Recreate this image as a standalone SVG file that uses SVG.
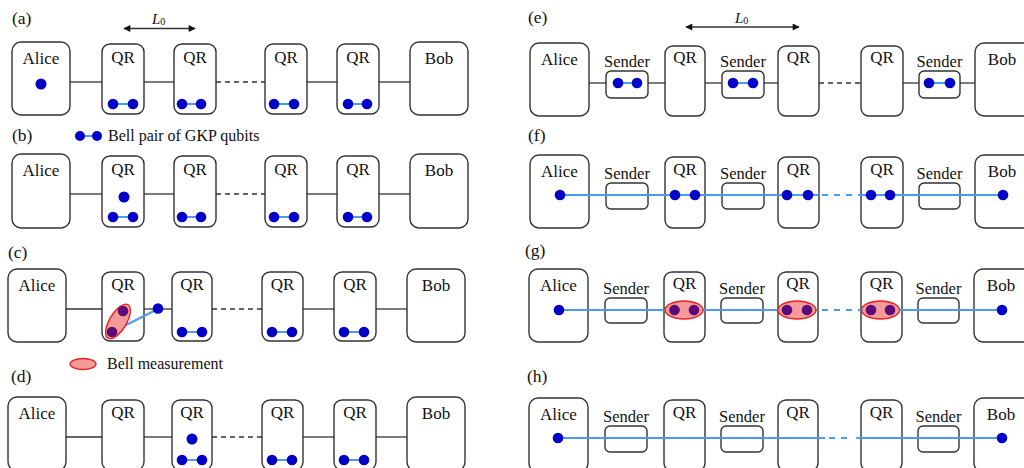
<svg xmlns="http://www.w3.org/2000/svg" width="1024" height="468" viewBox="0 0 1024 468">
<defs>
<style>
text{font-family:"Liberation Serif","Times New Roman",serif;fill:#111;}
.lb{font-size:17px;text-anchor:middle;}
.sd{font-size:16.5px;text-anchor:middle;}
.pl{font-size:17.5px;}
.l0{font-size:15px;font-style:italic;}
.lg{font-size:16px;}
.bx{fill:#fff;stroke:#333;stroke-width:1.4;}
.cn{stroke:#333;stroke-width:1.3;fill:none;}
.cd{stroke:#333;stroke-width:1.3;fill:none;stroke-dasharray:5 4;}
.bl{stroke:#4a9cf0;stroke-width:2;fill:none;}
.bd{stroke:#4a9cf0;stroke-width:2;fill:none;stroke-dasharray:6 6;}
.q{fill:#0000c8;}
.qm{fill:#5a0c78;}
.bm{fill:#f59a9a;stroke:#e82020;stroke-width:1.3;}
</style>
<marker id="ah" viewBox="0 0 10 10" refX="9" refY="5" markerWidth="9" markerHeight="7" markerUnits="userSpaceOnUse" orient="auto-start-reverse">
<path d="M0,0 L10,5 L0,10 z" fill="#111"/>
</marker>
</defs>

<!-- panel labels -->
<g id="labels">
<text class="pl" x="12" y="24">(a)</text>
<text class="pl" x="12" y="141">(b)</text>
<text class="pl" x="8" y="258">(c)</text>
<text class="pl" x="11" y="382">(d)</text>
<text class="pl" x="528" y="23">(e)</text>
<text class="pl" x="528" y="141">(f)</text>
<text class="pl" x="525" y="256">(g)</text>
<text class="pl" x="527" y="382">(h)</text>
<text class="l0" x="152" y="24">L<tspan font-size="10" font-style="normal" dy="1">0</tspan></text>
<text class="l0" x="735" y="23">L<tspan font-size="10" font-style="normal" dy="1">0</tspan></text>
<line class="cn" x1="124" y1="28.5" x2="195" y2="28.5" marker-start="url(#ah)" marker-end="url(#ah)"/>
<line class="cn" x1="686" y1="27" x2="799" y2="27" marker-start="url(#ah)" marker-end="url(#ah)"/>
</g>

<!-- legends -->
<g id="legend-bell-pair">
<line class="bl" x1="80" y1="136" x2="97" y2="136"/>
<circle class="q" cx="80" cy="136" r="5"/>
<circle class="q" cx="97" cy="136" r="5"/>
<text class="lg" x="108" y="141">Bell pair of GKP qubits</text>
</g>
<g id="legend-bell-measurement">
<ellipse class="bm" cx="83" cy="364" rx="13" ry="5.5"/>
<text class="lg" x="107" y="369">Bell measurement</text>
</g>

<!-- connectors -->
<g id="connectors">
<line class="cn" x1="70" y1="82" x2="102" y2="82"/>
<line class="cn" x1="144" y1="82" x2="174" y2="82"/>
<line class="cd" x1="216" y1="82" x2="265" y2="82"/>
<line class="cn" x1="307" y1="82" x2="337" y2="82"/>
<line class="cn" x1="379" y1="82" x2="410" y2="82"/>
<line class="cn" x1="70" y1="194" x2="102" y2="194"/>
<line class="cn" x1="144" y1="194" x2="174" y2="194"/>
<line class="cd" x1="216" y1="194" x2="265" y2="194"/>
<line class="cn" x1="307" y1="194" x2="337" y2="194"/>
<line class="cn" x1="379" y1="194" x2="410" y2="194"/>
<line class="cn" x1="66" y1="309" x2="102" y2="309"/>
<line class="cn" x1="144" y1="309" x2="172" y2="309"/>
<line class="cd" x1="212" y1="309" x2="262" y2="309"/>
<line class="cn" x1="303" y1="309" x2="334" y2="309"/>
<line class="cn" x1="376" y1="309" x2="407" y2="309"/>
<line class="cn" x1="66" y1="437" x2="102" y2="437"/>
<line class="cn" x1="144" y1="437" x2="172" y2="437"/>
<line class="cd" x1="212" y1="437" x2="262" y2="437"/>
<line class="cn" x1="303" y1="437" x2="334" y2="437"/>
<line class="cn" x1="376" y1="437" x2="407" y2="437"/>
<line class="cn" x1="589" y1="83" x2="606" y2="83"/>
<line class="cn" x1="648" y1="83" x2="665" y2="83"/>
<line class="cn" x1="705" y1="83" x2="722" y2="83"/>
<line class="cn" x1="764" y1="83" x2="778" y2="83"/>
<line class="cd" x1="819" y1="83" x2="861" y2="83"/>
<line class="cn" x1="903" y1="83" x2="919" y2="83"/>
<line class="cn" x1="960" y1="83" x2="975" y2="83"/>
</g>

<!-- nodes -->
<g id="nodes-a">
<g id="a-alice"><rect class="bx" x="12" y="42" width="58" height="73" rx="9"/><text class="lb" x="41" y="64">Alice</text></g>
<g id="a-qr1"><rect class="bx" x="102" y="44" width="42" height="70" rx="8"/><text class="lb" x="123" y="63">QR</text></g>
<g id="a-qr2"><rect class="bx" x="174" y="44" width="42" height="70" rx="8"/><text class="lb" x="195" y="63">QR</text></g>
<g id="a-qr3"><rect class="bx" x="265" y="44" width="42" height="70" rx="8"/><text class="lb" x="286" y="63">QR</text></g>
<g id="a-qr4"><rect class="bx" x="337" y="44" width="42" height="70" rx="8"/><text class="lb" x="358" y="63">QR</text></g>
<g id="a-bob"><rect class="bx" x="410" y="42" width="58" height="73" rx="9"/><text class="lb" x="439" y="64">Bob</text></g>
</g>
<g id="nodes-b">
<g id="b-alice"><rect class="bx" x="12" y="154" width="58" height="74" rx="9"/><text class="lb" x="41" y="176">Alice</text></g>
<g id="b-qr1"><rect class="bx" x="102" y="156" width="42" height="71" rx="8"/><text class="lb" x="123" y="175">QR</text></g>
<g id="b-qr2"><rect class="bx" x="174" y="156" width="42" height="71" rx="8"/><text class="lb" x="195" y="175">QR</text></g>
<g id="b-qr3"><rect class="bx" x="265" y="156" width="42" height="71" rx="8"/><text class="lb" x="286" y="175">QR</text></g>
<g id="b-qr4"><rect class="bx" x="337" y="156" width="42" height="71" rx="8"/><text class="lb" x="358" y="175">QR</text></g>
<g id="b-bob"><rect class="bx" x="410" y="154" width="58" height="74" rx="9"/><text class="lb" x="439" y="176">Bob</text></g>
</g>
<g id="nodes-c">
<g id="c-alice"><rect class="bx" x="8" y="269" width="58" height="73" rx="9"/><text class="lb" x="37" y="291">Alice</text></g>
<g id="c-qr1"><rect class="bx" x="102" y="272" width="42" height="69" rx="8"/><text class="lb" x="123" y="290">QR</text></g>
<g id="c-qr2"><rect class="bx" x="172" y="272" width="40" height="69" rx="8"/><text class="lb" x="192" y="290">QR</text></g>
<g id="c-qr3"><rect class="bx" x="262" y="272" width="41" height="69" rx="8"/><text class="lb" x="282.5" y="290">QR</text></g>
<g id="c-qr4"><rect class="bx" x="334" y="272" width="42" height="69" rx="8"/><text class="lb" x="355" y="290">QR</text></g>
<g id="c-bob"><rect class="bx" x="407" y="269" width="58" height="73" rx="9"/><text class="lb" x="436" y="291">Bob</text></g>
</g>
<g id="nodes-d">
<g id="d-alice"><rect class="bx" x="8" y="397" width="58" height="74" rx="9"/><text class="lb" x="37" y="419">Alice</text></g>
<g id="d-qr1"><rect class="bx" x="102" y="400" width="42" height="70" rx="8"/><text class="lb" x="123" y="418">QR</text></g>
<g id="d-qr2"><rect class="bx" x="172" y="400" width="40" height="70" rx="8"/><text class="lb" x="192" y="418">QR</text></g>
<g id="d-qr3"><rect class="bx" x="262" y="400" width="41" height="70" rx="8"/><text class="lb" x="282.5" y="418">QR</text></g>
<g id="d-qr4"><rect class="bx" x="334" y="400" width="42" height="70" rx="8"/><text class="lb" x="355" y="418">QR</text></g>
<g id="d-bob"><rect class="bx" x="407" y="397" width="58" height="74" rx="9"/><text class="lb" x="436" y="419">Bob</text></g>
</g>

<g id="nodes-e">
<g id="e-alice"><rect class="bx" x="530" y="43" width="59" height="73" rx="9"/><text class="lb" x="559.5" y="65">Alice</text></g>
<g id="e-s1"><rect class="bx" x="606" y="71" width="42" height="27" rx="5"/><text class="sd" x="627" y="67">Sender</text></g>
<g id="e-qr1"><rect class="bx" x="665" y="46" width="40" height="70" rx="8"/><text class="lb" x="685" y="63">QR</text></g>
<g id="e-s2"><rect class="bx" x="722" y="71" width="42" height="27" rx="5"/><text class="sd" x="743" y="67">Sender</text></g>
<g id="e-qr2"><rect class="bx" x="778" y="46" width="41" height="70" rx="8"/><text class="lb" x="798.5" y="63">QR</text></g>
<g id="e-qr3"><rect class="bx" x="861" y="46" width="42" height="70" rx="8"/><text class="lb" x="882" y="63">QR</text></g>
<g id="e-s3"><rect class="bx" x="919" y="71" width="41" height="27" rx="5"/><text class="sd" x="939.5" y="67">Sender</text></g>
<g id="e-bob"><rect class="bx" x="975" y="43" width="60" height="73" rx="9"/><text class="lb" x="1002" y="65">Bob</text></g>
</g>
<g id="nodes-f">
<g id="f-alice"><rect class="bx" x="530" y="155" width="59" height="73" rx="9"/><text class="lb" x="559.5" y="177">Alice</text></g>
<g id="f-s1"><rect class="bx" x="606" y="183" width="42" height="26" rx="5"/><text class="sd" x="627" y="179">Sender</text></g>
<g id="f-qr1"><rect class="bx" x="665" y="157" width="40" height="71" rx="8"/><text class="lb" x="685" y="175">QR</text></g>
<g id="f-s2"><rect class="bx" x="722" y="183" width="42" height="26" rx="5"/><text class="sd" x="743" y="179">Sender</text></g>
<g id="f-qr2"><rect class="bx" x="778" y="157" width="41" height="71" rx="8"/><text class="lb" x="798.5" y="175">QR</text></g>
<g id="f-qr3"><rect class="bx" x="861" y="157" width="42" height="71" rx="8"/><text class="lb" x="882" y="175">QR</text></g>
<g id="f-s3"><rect class="bx" x="919" y="183" width="41" height="26" rx="5"/><text class="sd" x="939.5" y="179">Sender</text></g>
<g id="f-bob"><rect class="bx" x="975" y="155" width="60" height="73" rx="9"/><text class="lb" x="1002" y="177">Bob</text></g>
</g>
<g id="nodes-g">
<g id="g-alice"><rect class="bx" x="529" y="269" width="59" height="73" rx="9"/><text class="lb" x="558.5" y="291">Alice</text></g>
<g id="g-s1"><rect class="bx" x="605" y="298" width="42" height="25" rx="5"/><text class="sd" x="626" y="294">Sender</text></g>
<g id="g-qr1"><rect class="bx" x="664" y="272" width="41" height="70" rx="8"/><text class="lb" x="684.5" y="289">QR</text></g>
<g id="g-s2"><rect class="bx" x="721" y="298" width="42" height="25" rx="5"/><text class="sd" x="742" y="294">Sender</text></g>
<g id="g-qr2"><rect class="bx" x="778" y="272" width="40" height="70" rx="8"/><text class="lb" x="798" y="289">QR</text></g>
<g id="g-qr3"><rect class="bx" x="861" y="272" width="41" height="70" rx="8"/><text class="lb" x="881.5" y="289">QR</text></g>
<g id="g-s3"><rect class="bx" x="918" y="298" width="41" height="25" rx="5"/><text class="sd" x="938.5" y="294">Sender</text></g>
<g id="g-bob"><rect class="bx" x="974" y="269" width="60" height="73" rx="9"/><text class="lb" x="1001" y="291">Bob</text></g>
</g>
<g id="nodes-h">
<g id="h-alice"><rect class="bx" x="529" y="398" width="59" height="74" rx="9"/><text class="lb" x="558.5" y="420">Alice</text></g>
<g id="h-s1"><rect class="bx" x="605" y="426" width="42" height="26" rx="5"/><text class="sd" x="626" y="422">Sender</text></g>
<g id="h-qr1"><rect class="bx" x="664" y="400" width="41" height="71" rx="8"/><text class="lb" x="684.5" y="418">QR</text></g>
<g id="h-s2"><rect class="bx" x="721" y="426" width="42" height="26" rx="5"/><text class="sd" x="742" y="422">Sender</text></g>
<g id="h-qr2"><rect class="bx" x="778" y="400" width="40" height="71" rx="8"/><text class="lb" x="798" y="418">QR</text></g>
<g id="h-qr3"><rect class="bx" x="861" y="400" width="41" height="71" rx="8"/><text class="lb" x="881.5" y="418">QR</text></g>
<g id="h-s3"><rect class="bx" x="918" y="426" width="41" height="26" rx="5"/><text class="sd" x="938.5" y="422">Sender</text></g>
<g id="h-bob"><rect class="bx" x="974" y="398" width="60" height="74" rx="9"/><text class="lb" x="1001" y="420">Bob</text></g>
</g>

<!-- entanglement links -->
<g id="entanglement-links">
<line class="bl" x1="113" y1="104" x2="133" y2="104"/>
<line class="bl" x1="182" y1="104" x2="201" y2="104"/>
<line class="bl" x1="274" y1="104" x2="294" y2="104"/>
<line class="bl" x1="348" y1="104" x2="367" y2="104"/>
<line class="bl" x1="113" y1="217" x2="133" y2="217"/>
<line class="bl" x1="182" y1="217" x2="201" y2="217"/>
<line class="bl" x1="274" y1="217" x2="294" y2="217"/>
<line class="bl" x1="348" y1="217" x2="367" y2="217"/>
<line class="bl" x1="112" y1="332" x2="158" y2="309"/>
<line class="bl" x1="182" y1="332" x2="202" y2="332"/>
<line class="bl" x1="272" y1="332" x2="292" y2="332"/>
<line class="bl" x1="344" y1="332" x2="364" y2="332"/>
<line class="bl" x1="182" y1="460" x2="202" y2="460"/>
<line class="bl" x1="272" y1="460" x2="292" y2="460"/>
<line class="bl" x1="344" y1="460" x2="364" y2="460"/>
<line class="bl" x1="618" y1="83" x2="637" y2="83"/>
<line class="bl" x1="733" y1="83" x2="753" y2="83"/>
<line class="bl" x1="929" y1="83" x2="950" y2="83"/>
<line class="bl" x1="560" y1="195" x2="819" y2="195"/>
<line class="bd" x1="822" y1="195" x2="861" y2="195"/>
<line class="bl" x1="861" y1="195" x2="1003" y2="195"/>
<line class="bl" x1="559" y1="310" x2="818" y2="310"/>
<line class="bd" x1="822" y1="310" x2="861" y2="310"/>
<line class="bl" x1="861" y1="310" x2="1002" y2="310"/>
<line class="bl" x1="558" y1="438" x2="825" y2="438"/>
<line class="bd" x1="829" y1="438" x2="852" y2="438"/>
<line class="bl" x1="856" y1="438" x2="1002" y2="438"/>
</g>

<!-- qubits -->
<g id="qubits">
<circle class="q" cx="41" cy="84" r="5.5"/>
<circle class="q" cx="113" cy="104" r="5.3"/><circle class="q" cx="133" cy="104" r="5.3"/>
<circle class="q" cx="182" cy="104" r="5.3"/><circle class="q" cx="201" cy="104" r="5.3"/>
<circle class="q" cx="274" cy="104" r="5.3"/><circle class="q" cx="294" cy="104" r="5.3"/>
<circle class="q" cx="348" cy="104" r="5.3"/><circle class="q" cx="367" cy="104" r="5.3"/>
<circle class="q" cx="124" cy="197" r="5.5"/>
<circle class="q" cx="113" cy="217" r="5.3"/><circle class="q" cx="133" cy="217" r="5.3"/>
<circle class="q" cx="182" cy="217" r="5.3"/><circle class="q" cx="201" cy="217" r="5.3"/>
<circle class="q" cx="274" cy="217" r="5.3"/><circle class="q" cx="294" cy="217" r="5.3"/>
<circle class="q" cx="348" cy="217" r="5.3"/><circle class="q" cx="367" cy="217" r="5.3"/>
<ellipse class="bm" cx="118" cy="321.5" rx="19.5" ry="8.5" transform="rotate(-59 118 321.5)"/>
<circle class="qm" cx="123" cy="311" r="5.3"/><circle class="qm" cx="112" cy="332" r="5.3"/>
<circle class="q" cx="158" cy="308.5" r="5.3"/>
<circle class="q" cx="182" cy="332" r="5.3"/><circle class="q" cx="202" cy="332" r="5.3"/>
<circle class="q" cx="272" cy="332" r="5.3"/><circle class="q" cx="292" cy="332" r="5.3"/>
<circle class="q" cx="344" cy="332" r="5.3"/><circle class="q" cx="364" cy="332" r="5.3"/>
<circle class="q" cx="192" cy="439" r="5.5"/>
<circle class="q" cx="182" cy="460" r="5.3"/><circle class="q" cx="202" cy="460" r="5.3"/>
<circle class="q" cx="272" cy="460" r="5.3"/><circle class="q" cx="292" cy="460" r="5.3"/>
<circle class="q" cx="344" cy="460" r="5.3"/><circle class="q" cx="364" cy="460" r="5.3"/>
<circle class="q" cx="618" cy="83" r="5.3"/><circle class="q" cx="637" cy="83" r="5.3"/>
<circle class="q" cx="733" cy="83" r="5.3"/><circle class="q" cx="753" cy="83" r="5.3"/>
<circle class="q" cx="929" cy="83" r="5.3"/><circle class="q" cx="950" cy="83" r="5.3"/>
<circle class="q" cx="560" cy="195" r="5.3"/>
<circle class="q" cx="675" cy="195" r="5.3"/><circle class="q" cx="695" cy="195" r="5.3"/>
<circle class="q" cx="787" cy="195" r="5.3"/><circle class="q" cx="808" cy="195" r="5.3"/>
<circle class="q" cx="871" cy="195" r="5.3"/><circle class="q" cx="890" cy="195" r="5.3"/>
<circle class="q" cx="1003" cy="195" r="5.3"/>
<circle class="q" cx="559" cy="310" r="5.3"/>
<ellipse class="bm" cx="684" cy="310" rx="19" ry="9"/>
<circle class="qm" cx="674.5" cy="310" r="5.3"/><circle class="qm" cx="694" cy="310" r="5.3"/>
<ellipse class="bm" cx="797" cy="310" rx="19" ry="9"/>
<circle class="qm" cx="787" cy="310" r="5.3"/><circle class="qm" cx="807" cy="310" r="5.3"/>
<ellipse class="bm" cx="880.5" cy="310" rx="19" ry="9"/>
<circle class="qm" cx="871" cy="310" r="5.3"/><circle class="qm" cx="890" cy="310" r="5.3"/>
<circle class="q" cx="1002" cy="310" r="5.3"/>
<circle class="q" cx="558" cy="438" r="5.3"/>
<circle class="q" cx="1002" cy="438" r="5.3"/>
</g>
</svg>
